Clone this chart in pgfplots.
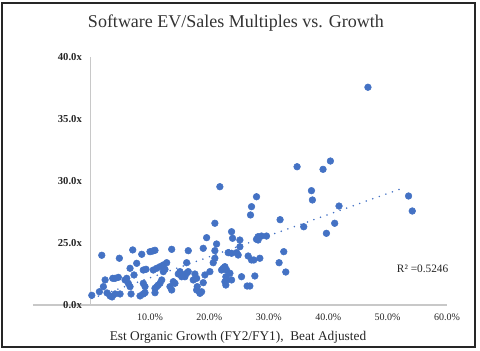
\documentclass[border=0pt]{standalone}
\usepackage{fontspec}
\setmainfont{Liberation Serif}
\usepackage{pgfplots}
\pgfplotsset{compat=1.18}
\definecolor{xblue}{HTML}{4472C4}
\definecolor{axgray}{HTML}{C8C8C8}
\begin{document}
\begin{tikzpicture}
\begin{axis}[
  scale only axis,
  width=310.5pt, height=186pt,
  xmin=-9.7, xmax=60, ymin=20, ymax=40,
  axis x line*=bottom, axis y line*=middle,
  hide obscured y ticks=false, hide obscured x ticks=false,
  x axis line style={draw=axgray, line width=1.3pt},
  y axis line style={draw=axgray, line width=0.8pt},
  major tick length=0pt,
  xtick={10,20,30,40,50,60},
  xticklabels={10.0\%,20.0\%,30.0\%,40.0\%,50.0\%,60.0\%},
  ytick={20,25,30,35,40},
  yticklabels={0.0x,25.0x,30.0x,35.0x,40.0x},
  /pgf/number format/assume math mode=true,
  x tick label style={font=\fontsize{7.5}{9}\selectfont, text=black!85, yshift=-3pt},
  y tick label style={font=\bfseries\fontsize{8}{9}\selectfont, text=black!85, xshift=-3pt},
  clip=false,
]
\path (rel axis cs:-0.0797,-0.1815) rectangle (rel axis cs:1.0797,1.2298);
\draw[line width=1.5pt, black!85] (rel axis cs:-0.0749,-0.1694) rectangle (rel axis cs:1.0676,1.2177);
\node[font=\fontsize{13.5}{16}\selectfont, text=black!80] at (rel axis cs:0.4903,1.1371) {Software EV/Sales Multiples vs. Growth};
\node[font=\fontsize{10}{12}\selectfont, text=black!85] at (rel axis cs:0.4952,-0.1290) {Est Organic Growth (FY2/FY1),\ \ Beat Adjusted};
\addplot[xblue, line width=1.3pt, dash pattern=on 0pt off 5.2pt, line cap=round] coordinates {(0.2,20.53) (53.0,29.5)};
\addplot[only marks, mark=*, mark size=2.5pt, mark options={fill=xblue, draw=xblue}] table {
x y
0.2 20.78
1.88 24.01
1.48 21.07
2.15 21.48
2.44 22.02
2.77 20.97
3.28 20.73
3.61 20.65
4.12 20.89
4.96 20.89
3.73 22.15
4.12 22.15
4.67 22.23
4.84 23.77
5.80 22.02
6.08 22.15
6.35 21.75
6.64 21.48
6.81 20.89
7.09 24.44
6.64 22.96
7.76 23.36
7.31 22.42
8.61 24.09
8.87 22.82
9.33 22.88
8.32 20.73
8.87 20.89
9.16 20.99
8.87 21.75
9.16 21.48
10.0 24.30
10.45 24.35
10.84 24.41
10.55 22.82
11.13 22.96
11.68 23.09
12.24 23.23
12.81 23.41
10.84 21.35
11.13 21.48
11.39 21.61
11.68 21.75
11.97 22.02
10.84 20.99
12.24 22.69
12.52 22.88
13.65 24.49
13.36 21.48
13.65 21.21
13.92 21.88
14.20 21.75
14.76 22.50
15.04 22.69
15.33 22.28
15.60 22.42
15.88 22.28
16.17 22.56
16.44 22.69
16.17 23.41
16.44 24.38
17.56 22.50
17.85 22.15
17.95 21.48
18.40 20.94
18.69 21.07
18.96 21.80
18.96 24.57
19.53 25.43
19.24 22.42
20.08 22.69
20.64 23.41
20.92 23.77
20.92 26.59
21.21 24.92
21.76 29.54
22.05 22.82
22.32 22.96
22.61 23.09
22.89 22.82
22.77 22.28
22.89 22.02
22.77 21.61
23.16 24.22
23.73 24.17
24.57 24.22
25.13 24.70
23.73 25.91
23.90 25.38
25.13 25.24
24.84 24.03
25.41 22.28
26.35 21.53
26.52 23.95
26.92 27.26
27.09 27.93
27.09 23.63
27.48 23.63
27.93 28.73
27.65 22.34
27.93 25.30
28.20 25.51
28.77 25.56
29.61 25.56
28.20 25.24
26.81 21.53
46.69 37.56
34.76 31.15
39.13 30.94
40.37 31.61
37.18 29.22
37.34 28.47
53.53 28.79
54.15 27.58
41.82 27.98
31.90 26.88
41.09 26.59
35.88 26.31
39.70 25.78
32.52 24.30
31.73 23.41
32.86 22.66
28.49 23.77
23.45 22.56
23.73 22.02
22.61 21.88
17.28 22.02
17.85 21.21
20.92 24.38
};
\node[font=\fontsize{8.5}{10}\selectfont, text=black!85] at (axis cs:55.9,22.9) {R² =0.5246};
\end{axis}
\end{tikzpicture}
\end{document}
